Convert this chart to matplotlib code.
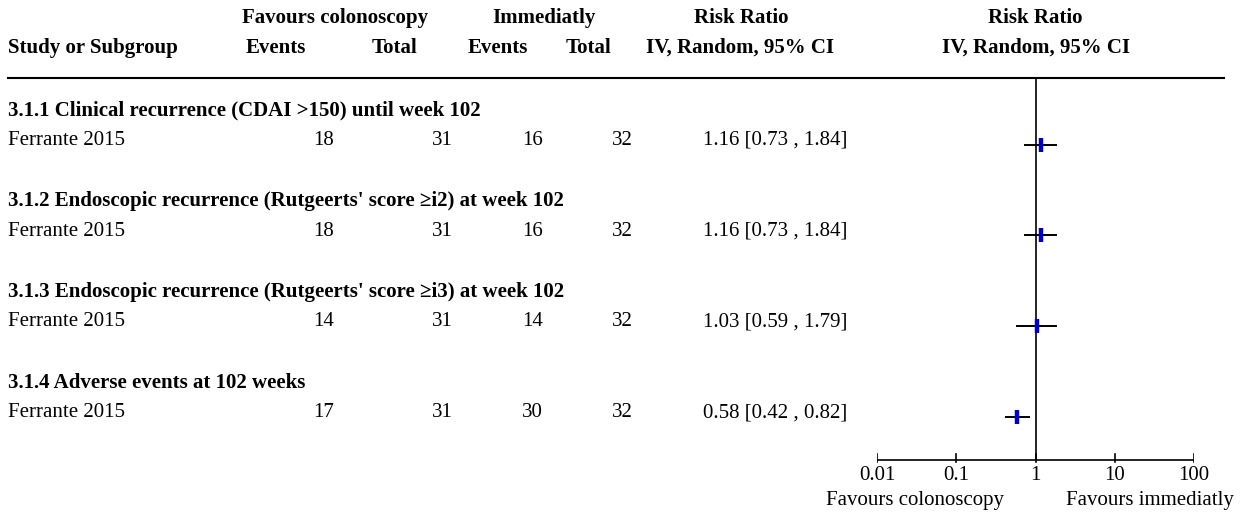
import matplotlib.pyplot as plt

plt.rcParams['font.family'] = ['Liberation Serif', 'DejaVu Serif']

subgroups = [
    "3.1.1 Clinical recurrence (CDAI >150) until week 102",
    "3.1.2 Endoscopic recurrence (Rutgeerts' score \u2265i2) at week 102",
    "3.1.3 Endoscopic recurrence (Rutgeerts' score \u2265i3) at week 102",
    "3.1.4 Adverse events at 102 weeks",
]
studies = ["Ferrante 2015"] * 4
col_events = [18, 18, 14, 17]
col_total = [31, 31, 31, 31]
imm_events = [16, 16, 14, 30]
imm_total = [32, 32, 32, 32]
rr = [1.16, 1.16, 1.03, 0.58]
ci_low = [0.73, 0.73, 0.59, 0.42]
ci_high = [1.84, 1.84, 1.79, 0.82]
ticks = [0.01, 0.1, 1, 10, 100]
tick_labels = ["0.01", "0.1", "1", "10", "100"]

W, H = 1242, 513
fig = plt.figure(figsize=(W / 100, H / 100), dpi=100)

# text layer in pixel coords
tx = fig.add_axes([0, 0, 1, 1])
tx.set_xlim(0, W)
tx.set_ylim(H, 0)
tx.axis('off')

fs = 15
bold = dict(fontsize=fs, fontweight='bold', va='center')
norm = dict(fontsize=fs, va='center')

tx.text(335, 18, "Favours colonoscopy", ha='center', **bold)
tx.text(544, 18, "Immediatly", ha='center', **bold)
tx.text(741, 18, "Risk Ratio", ha='center', **bold)
tx.text(1035, 18, "Risk Ratio", ha='center', **bold)
tx.text(8, 48, "Study or Subgroup", ha='left', **bold)
tx.text(276, 48, "Events", ha='center', **bold)
tx.text(394, 48, "Total", ha='center', **bold)
tx.text(498, 48, "Events", ha='center', **bold)
tx.text(588, 48, "Total", ha='center', **bold)
tx.text(740, 48, "IV, Random, 95% CI", ha='center', **bold)
tx.text(1036, 48, "IV, Random, 95% CI", ha='center', **bold)
tx.plot([8, 1224], [78, 78], color='black', lw=1.5)

row0, step = 110.5, 90.7
for i in range(len(subgroups)):
    yh = row0 + i * step
    ys = yh + 30
    tx.text(8, yh, subgroups[i], ha='left', **bold)
    tx.text(8, ys, studies[i], ha='left', **norm)
    tx.text(334, ys, str(col_events[i]), ha='right', **norm)
    tx.text(453, ys, str(col_total[i]), ha='right', **norm)
    tx.text(543, ys, str(imm_events[i]), ha='right', **norm)
    tx.text(633, ys, str(imm_total[i]), ha='right', **norm)
    tx.text(847, ys, f"{rr[i]:.2f} [{ci_low[i]:.2f} , {ci_high[i]:.2f}]", ha='right', **norm)

# forest layer: log x, pixel y
x0, x1 = 877, 1194
ax = fig.add_axes([x0 / W, 0, (x1 - x0) / W, 1])
ax.set_xscale('log')
ax.set_xlim(0.01, 100)
ax.set_ylim(H, 0)
ax.axis('off')

axis_y = 460
ax.plot([1, 1], [78, axis_y], color='black', lw=1.2)
ax.plot([0.01, 100], [axis_y, axis_y], color='black', lw=1.2)
for t, lab in zip(ticks, tick_labels):
    ax.plot([t, t], [axis_y - 6, axis_y + 2], color='black', lw=1.2)
    ax.text(t, axis_y + 15, lab, ha='center', va='center', fontsize=fs, clip_on=False)
fig.text(915 / W, 1 - 500 / H, "Favours colonoscopy", ha='center', va='center', fontsize=fs)
fig.text(1150 / W, 1 - 500 / H, "Favours immediatly", ha='center', va='center', fontsize=fs)

for i in range(len(rr)):
    ym = row0 + i * step + 34
    ax.plot([ci_low[i], ci_high[i]], [ym, ym], color='black', lw=1.4, zorder=2)
    ax.plot([rr[i], rr[i]], [ym - 7, ym + 7], color='#0000cc', lw=3.2, solid_capstyle='butt', zorder=3)

fig.savefig('out.png', dpi=100)
